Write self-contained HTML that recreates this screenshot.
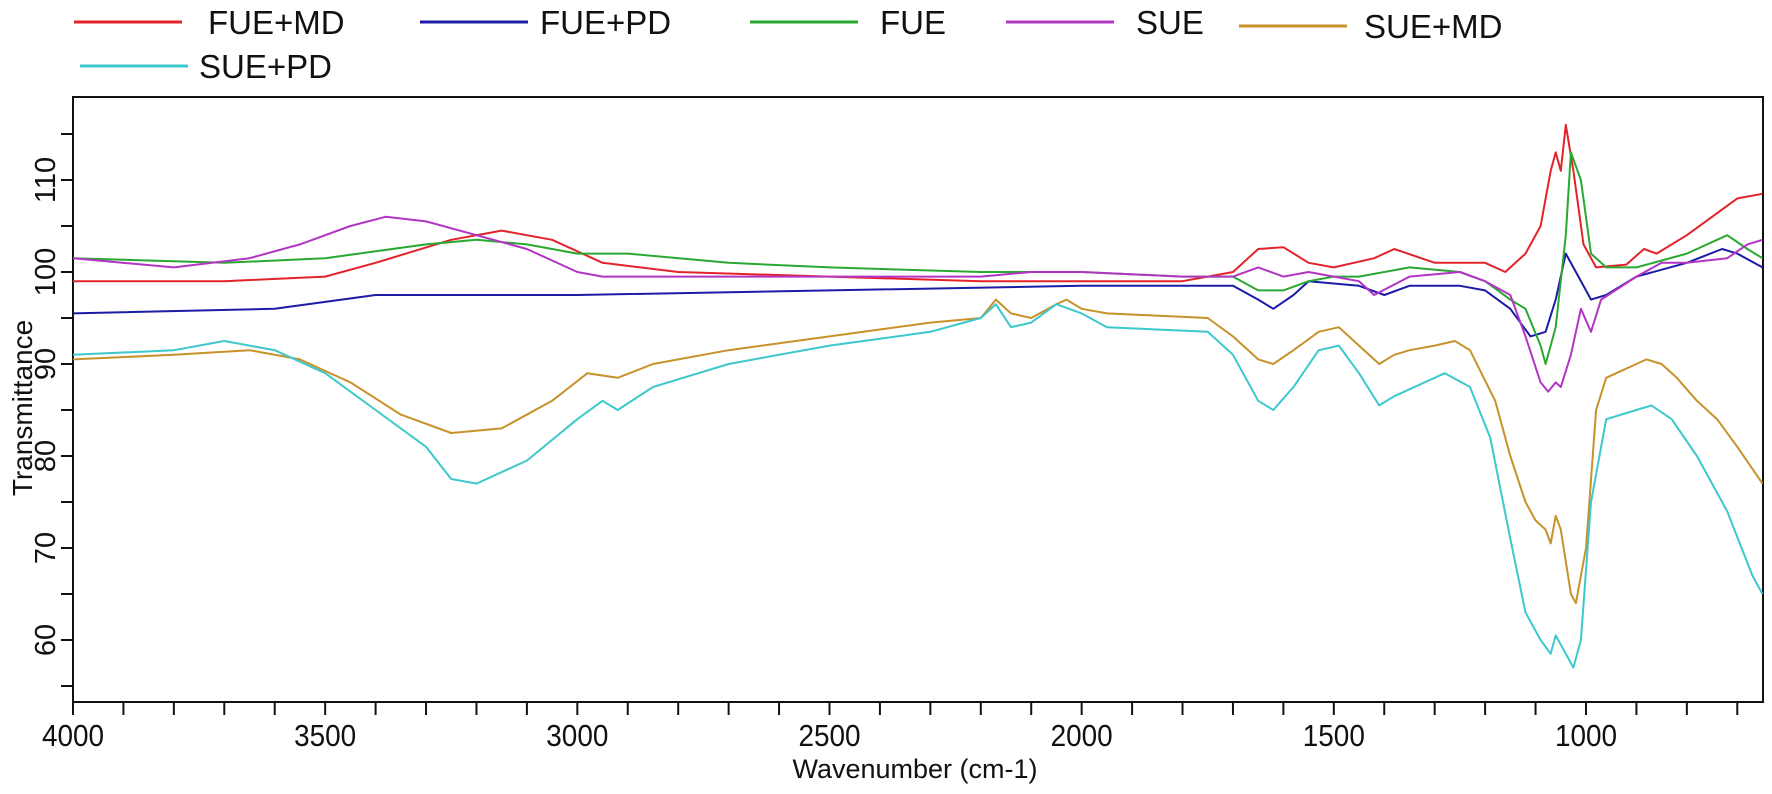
<!DOCTYPE html>
<html><head><meta charset="utf-8"><style>
html,body{margin:0;padding:0;background:#fff;}
svg{display:block;font-family:"Liberation Sans",Arial,sans-serif;}
</style></head><body>
<svg id="chart" width="1772" height="794" viewBox="0 0 1772 794" xmlns="http://www.w3.org/2000/svg">
<g id="legend"></g>
<g id="axes"></g>
<g id="series"></g>
</svg>
<script>
const xTicksMajor = [4000, 3500, 3000, 2500, 2000, 1500, 1000];
const yTickLabels = [60, 70, 80, 90, 100, 110];
const seriesNames = ["FUE+MD", "FUE+PD", "FUE", "SUE", "SUE+MD", "SUE+PD"];
const seriesColors = ["#e3232b", "#1c1ca6", "#2aa832", "#b235c4", "#c8922a", "#3cc8cc"];
const fueMd = [[4000,99],[3700,99],[3500,99.5],[3400,101],[3250,103.5],[3150,104.5],[3050,103.5],[2950,101],[2800,100],[2500,99.5],[2200,99],[2000,99],[1800,99],[1700,100],[1650,102.5],[1600,102.7],[1550,101],[1500,100.5],[1420,101.5],[1380,102.5],[1300,101],[1200,101],[1160,100],[1120,102],[1090,105],[1070,111],[1060,113],[1050,111],[1040,116],[1025,111],[1005,103],[980,100.5],[920,100.8],[885,102.5],[860,102],[800,104],[750,106],[700,108],[650,108.5]];
const fuePd = [[4000,95.5],[3600,96],[3400,97.5],[3300,97.5],[3000,97.5],[2500,98],[2000,98.5],[1700,98.5],[1650,97],[1620,96],[1580,97.5],[1550,99],[1450,98.5],[1400,97.5],[1350,98.5],[1250,98.5],[1200,98],[1150,96],[1110,93],[1080,93.5],[1060,97],[1040,102],[1020,100],[1000,98],[990,97],[960,97.5],[900,99.5],[800,101],[730,102.5],[700,102],[650,100.5]];
const fue = [[4000,101.5],[3700,101],[3500,101.5],[3300,103],[3200,103.5],[3100,103],[3000,102],[2900,102],[2700,101],[2500,100.5],[2200,100],[2000,100],[1800,99.5],[1700,99.5],[1650,98],[1600,98],[1550,99],[1500,99.5],[1450,99.5],[1350,100.5],[1250,100],[1200,99],[1150,97],[1120,96],[1090,92],[1080,90],[1060,94],[1040,104],[1030,113],[1010,110],[990,102],[960,100.5],[900,100.5],[800,102],[720,104],[680,102.5],[650,101.5]];
const sue = [[4000,101.5],[3800,100.5],[3650,101.5],[3550,103],[3450,105],[3380,106],[3300,105.5],[3200,104],[3100,102.5],[3000,100],[2950,99.5],[2800,99.5],[2500,99.5],[2200,99.5],[2100,100],[2000,100],[1800,99.5],[1700,99.5],[1650,100.5],[1600,99.5],[1550,100],[1500,99.5],[1450,99],[1420,97.5],[1350,99.5],[1250,100],[1200,99],[1150,97.5],[1120,93],[1090,88],[1075,87],[1060,88],[1050,87.5],[1030,91],[1010,96],[990,93.5],[970,97],[900,99.5],[850,101],[800,101],[720,101.5],[680,103],[650,103.5]];
const sueMd = [[4000,90.5],[3800,91],[3650,91.5],[3550,90.5],[3450,88],[3350,84.5],[3250,82.5],[3150,83],[3050,86],[2980,89],[2920,88.5],[2850,90],[2700,91.5],[2500,93],[2300,94.5],[2200,95],[2170,97],[2140,95.5],[2100,95],[2050,96.5],[2030,97],[2000,96],[1950,95.5],[1750,95],[1700,93],[1650,90.5],[1620,90],[1580,91.5],[1530,93.5],[1490,94],[1450,92],[1410,90],[1380,91],[1350,91.5],[1300,92],[1260,92.5],[1230,91.5],[1180,86],[1150,80],[1120,75],[1100,73],[1080,72],[1070,70.5],[1060,73.5],[1050,72],[1030,65],[1020,64],[1000,70],[980,85],[960,88.5],[940,89],[900,90],[880,90.5],[850,90],[820,88.5],[780,86],[740,84],[700,81],[650,77]];
const suePd = [[4000,91],[3800,91.5],[3700,92.5],[3600,91.5],[3500,89],[3400,85],[3300,81],[3250,77.5],[3200,77],[3100,79.5],[3000,84],[2950,86],[2920,85],[2850,87.5],[2700,90],[2500,92],[2300,93.5],[2200,95],[2170,96.5],[2140,94],[2100,94.5],[2050,96.5],[2000,95.5],[1950,94],[1750,93.5],[1700,91],[1650,86],[1620,85],[1580,87.5],[1530,91.5],[1490,92],[1450,89],[1410,85.5],[1380,86.5],[1320,88],[1280,89],[1230,87.5],[1190,82],[1150,71],[1120,63],[1090,60],[1070,58.5],[1060,60.5],[1045,59],[1025,57],[1010,60],[990,75],[960,84],[900,85],[870,85.5],[830,84],[780,80],[720,74],[670,67],[650,65]];
const allSeries = [fueMd, fuePd, fue, sue, sueMd, suePd];

const NS = "http://www.w3.org/2000/svg";
const L = 73, R = 1763, T = 97, B = 702;
const W0 = 4000, W1 = 649;
function xScale(w){ return L + (W0 - w) * (R - L) / (W0 - W1); }
function yScale(v){ return 272 + (100 - v) * 9.2; }
function mk(tag, attrs, parent){ const e = document.createElementNS(NS, tag); for (const k in attrs) e.setAttribute(k, attrs[k]); parent.appendChild(e); return e; }

const axes = document.getElementById("axes");
const frame = mk("rect", {x:L, y:T, width:R-L, height:B-T, fill:"none", stroke:"#111", "stroke-width":2}, axes);



for (let w = 4000; w >= 700; w -= 100) {
  const t = mk("line", {x1:xScale(w), x2:xScale(w), y1:B, y2:B+13, stroke:"#111", "stroke-width":2}, axes);
  
  
}
xTicksMajor.forEach(w => {
  const t = mk("text", {x:xScale(w)/0.9, y:746, "text-anchor":"middle", "font-size":31, fill:"#111", transform:"scale(0.9,1)"}, axes);
  t.textContent = w;
  
  
});
for (let v = 55; v <= 115; v += 5) {
  const t = mk("line", {x1:L-12, x2:L, y1:yScale(v), y2:yScale(v), stroke:"#111", "stroke-width":2}, axes);
  
  
}
yTickLabels.forEach(v => {
  const t = mk("text", {x:0, y:0, "text-anchor":"middle", "font-size":29, fill:"#111", transform:`translate(55,${yScale(v)}) rotate(-90)`}, axes);
  t.textContent = v;
  
  
});
const xt = mk("text", {x:915, y:778, "text-anchor":"middle", "font-size":27, fill:"#111"}, axes);
xt.textContent = "Wavenumber (cm-1)";


const yt = mk("text", {x:0, y:0, "text-anchor":"middle", "font-size":28, fill:"#111", transform:"translate(32,408) rotate(-90)"}, axes);
yt.textContent = "Transmittance";



const sg = document.getElementById("series");
allSeries.forEach((s, i) => {
  const pts = s.map(p => xScale(p[0]).toFixed(1) + "," + yScale(p[1]).toFixed(1)).join(" ");
  const pl = mk("polyline", {points:pts, fill:"none", stroke:seriesColors[i], "stroke-width":2, "stroke-linejoin":"round"}, sg);
  
  
});

const lg = document.getElementById("legend");
const legPos = [[74,22,208],[420,22,540],[750,22,880],[1006,22,1136],[1239,26,1364],[80,66,199]];
seriesNames.forEach((n, i) => {
  const [lx, ly, tx] = legPos[i];
  const ln = mk("line", {x1:lx, x2:lx+108, y1:ly, y2:ly, stroke:seriesColors[i], "stroke-width":3}, lg);
  
  
  const tx1 = mk("text", {x:tx, y:ly+12, "font-size":33, fill:"#111"}, lg);
  tx1.textContent = n;
  
  
});
</script>
</body></html>
